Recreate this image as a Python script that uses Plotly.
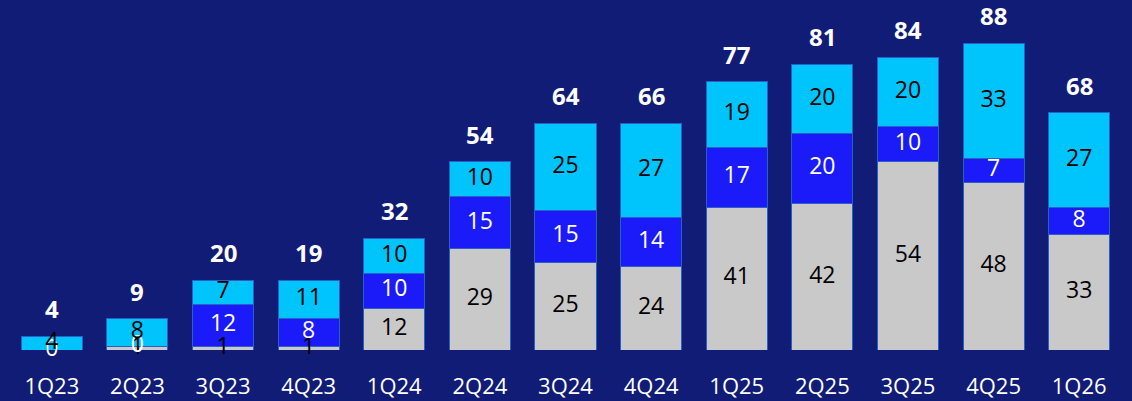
import plotly.graph_objects as go

quarters = ["1Q23", "2Q23", "3Q23", "4Q23", "1Q24", "2Q24", "3Q24",
            "4Q24", "1Q25", "2Q25", "3Q25", "4Q25", "1Q26"]
grey_vals = [0, 1, 1, 1, 12, 29, 25, 24, 41, 42, 54, 48, 33]
blue_vals = [0, 0, 12, 8, 10, 15, 15, 14, 17, 20, 10, 7, 8]
cyan_vals = [4, 8, 7, 11, 10, 10, 25, 27, 19, 20, 20, 33, 27]
totals = [4, 9, 20, 19, 32, 54, 64, 66, 77, 81, 84, 88, 68]

BG = "#111c77"
GREY = "#c9c9c9"
BLUE = "#1b1bfa"
CYAN = "#00c5fd"
EDGE = "#2a5fc8"
FONT = "Open Sans"

series = [
    (grey_vals, GREY, "#000000"),
    (blue_vals, BLUE, "#ffffff"),
    (cyan_vals, CYAN, "#000000"),
]

fig = go.Figure()
base = [0] * len(quarters)
for vals, color, txt_color in series:
    fig.add_trace(go.Bar(
        x=quarters, y=vals, marker=dict(color=color, line=dict(color=EDGE, width=1)),
        hoverinfo="skip", showlegend=False,
    ))
    mids = [b + v / 2 for b, v in zip(base, vals)]
    fig.add_trace(go.Scatter(
        x=quarters, y=mids, mode="text", text=[str(v) for v in vals],
        textposition="middle center",
        textfont=dict(family=FONT, size=23, color=txt_color),
        hoverinfo="skip", showlegend=False, cliponaxis=False,
    ))
    base = [b + v for b, v in zip(base, vals)]

for q, top, tot in zip(quarters, base, totals):
    fig.add_annotation(
        x=q, y=top, text=f"<b>{tot}</b>", showarrow=False,
        yanchor="bottom", yshift=9,
        font=dict(family=FONT, size=24, color="#ffffff"),
    )

fig.update_layout(
    barmode="stack", bargap=0.287,
    width=1132, height=401,
    margin=dict(l=9, r=10, t=0, b=51, autoexpand=False),
    paper_bgcolor=BG, plot_bgcolor=BG,
    xaxis=dict(showgrid=False, zeroline=False, showline=False, automargin=False,
               range=[-0.5, 12.5],
               ticks="outside", ticklen=17, tickcolor="rgba(0,0,0,0)",
               tickfont=dict(family=FONT, size=22, color="#ffffff")),
    yaxis=dict(range=[0, 100.4], visible=False, showgrid=False, zeroline=False,
               automargin=False),
)

fig.write_html("out.html")
